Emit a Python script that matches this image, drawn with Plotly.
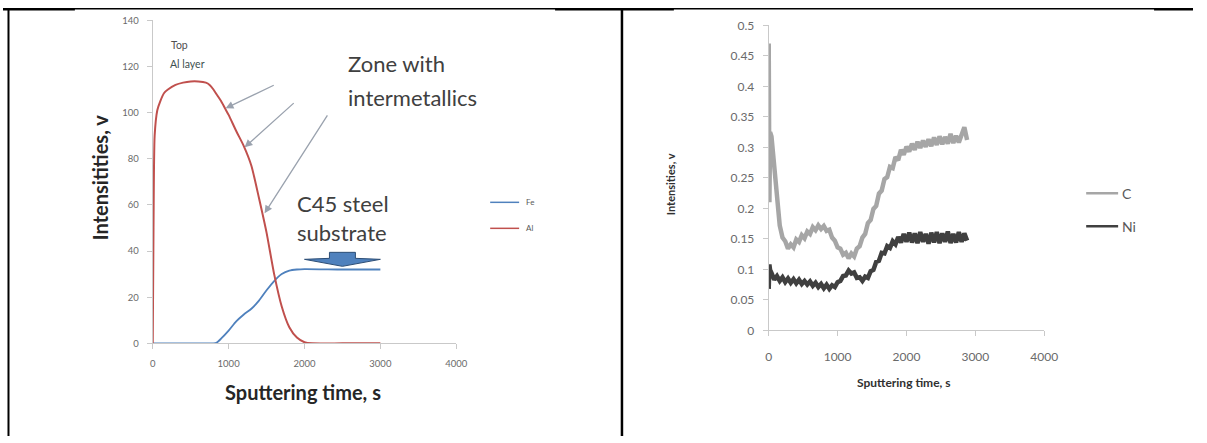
import plotly.graph_objects as go

W, H = 1207, 443

# ---- left panel: Fe / Al depth profile ----
fe_time = [0, 200, 400, 600, 800, 850, 900, 1000, 1100, 1200, 1300, 1400, 1500,
           1600, 1700, 1800, 1900, 2000, 2500, 3000]
fe_val = [0, 0, 0, 0, 0, 0.5, 2, 5.5, 9.5, 12.5, 15, 18.5, 23, 27, 30, 31.5, 32,
          32.2, 32, 32]

al_time = [0, 10, 25, 60, 100, 150, 200, 300, 400, 500, 600, 700, 750, 800, 850,
           900, 950, 1000, 1100, 1200, 1300, 1400, 1500, 1600, 1700, 1800, 1900,
           2000, 2100, 2500, 3000]
al_val = [0, 50, 90, 101, 105, 108.5, 110, 112, 113, 113.5, 113.5, 113, 112,
          110, 107.5, 105, 102, 99, 92, 85.5, 77, 63, 48, 30, 16, 7, 2.5, 0.5,
          0, 0, 0]

left_xticks = [0, 1000, 2000, 3000, 4000]
left_yticks = [0, 20, 40, 60, 80, 100, 120, 140]

# ---- right panel: C / Ni depth profile ----
cn_time = [0, 10, 20] + list(range(40, 2881, 40))

c_val = [0.47, 0.21, 0.325,
         0.318, 0.272, 0.214, 0.172, 0.152, 0.146, 0.134, 0.141, 0.136, 0.149,
         0.145, 0.156, 0.151, 0.162, 0.158, 0.169, 0.164, 0.172, 0.166, 0.171,
         0.163, 0.165, 0.152, 0.147, 0.136, 0.134, 0.124, 0.127, 0.118, 0.126,
         0.121, 0.134, 0.138, 0.152, 0.158, 0.176, 0.181, 0.199, 0.204, 0.224,
         0.229, 0.248, 0.251, 0.268, 0.266, 0.284, 0.279, 0.296, 0.288, 0.301,
         0.293, 0.306, 0.296, 0.309, 0.299, 0.311, 0.301, 0.313, 0.302, 0.316,
         0.304, 0.318, 0.305, 0.317, 0.306, 0.322, 0.307, 0.319, 0.308, 0.321,
         0.333, 0.312]

ni_val = [0.068, 0.108, 0.099,
          0.094, 0.083, 0.089, 0.081, 0.087, 0.079, 0.085, 0.078, 0.084, 0.077,
          0.083, 0.076, 0.081, 0.075, 0.080, 0.073, 0.078, 0.071, 0.076, 0.069,
          0.075, 0.068, 0.074, 0.071, 0.079, 0.081, 0.089, 0.090, 0.098, 0.093,
          0.095, 0.086, 0.087, 0.081, 0.088, 0.086, 0.097, 0.099, 0.112, 0.114,
          0.127, 0.126, 0.138, 0.135, 0.146, 0.141, 0.153, 0.144, 0.158, 0.145,
          0.160, 0.144, 0.159, 0.143, 0.161, 0.145, 0.158, 0.142, 0.160, 0.144,
          0.161, 0.143, 0.159, 0.145, 0.162, 0.143, 0.158, 0.144, 0.161, 0.145,
          0.159, 0.147]

right_xticks = [0, 1000, 2000, 3000, 4000]
right_yticks = [0, 0.05, 0.1, 0.15, 0.2, 0.25, 0.3, 0.35, 0.4, 0.45, 0.5]
right_ylabels = ["0", "0.05", "0.1", "0.15", "0.2", "0.25", "0.3", "0.35",
                 "0.4", "0.45", "0.5"]

n = min(len(cn_time), len(c_val), len(ni_val))
cn_time, c_val, ni_val = cn_time[:n], c_val[:n], ni_val[:n]

FONT = "Lato"
FE_COL, AL_COL = "#4f81bd", "#c0504d"
C_COL, NI_COL = "#a6a6a6", "#404040"
AXIS_COL = "#c9c9c9"
TICK_COL = "#6a6a6a"

# page-to-figure pixel mapping (the page shows the figure in a 1192 x 428 box
# starting 7.7 px from the top)
SX = 1207 / 1192
SY = 0.966
OY = 7.7


def cx(x):
    return x * SX


def cy(y):
    return (y - OY) / SY


def px(x):
    return cx(x) / W


def py(y):
    return 1 - cy(y) / H


fig = go.Figure()

fig.add_trace(go.Scatter(x=fe_time, y=fe_val, mode="lines", name="Fe",
                         line=dict(color=FE_COL, width=1.8, shape="spline",
                                   smoothing=0.6),
                         xaxis="x", yaxis="y", showlegend=False))
fig.add_trace(go.Scatter(x=al_time, y=al_val, mode="lines", name="Al",
                         line=dict(color=AL_COL, width=2, shape="spline",
                                   smoothing=0.6),
                         xaxis="x", yaxis="y", showlegend=False))
fig.add_trace(go.Scatter(x=cn_time, y=c_val, mode="lines", name="C",
                         line=dict(color=C_COL, width=4.5),
                         xaxis="x2", yaxis="y2", showlegend=False))
fig.add_trace(go.Scatter(x=cn_time, y=ni_val, mode="lines", name="Ni",
                         line=dict(color=NI_COL, width=4.5),
                         xaxis="x2", yaxis="y2", showlegend=False))

axis_common = dict(showline=True, linecolor=AXIS_COL, linewidth=1,
                   ticks="outside", ticklen=5, tickcolor=AXIS_COL,
                   showgrid=False, zeroline=False)

fig.update_layout(
    width=W, height=H, autosize=False,
    margin=dict(l=0, r=0, t=0, b=0),
    paper_bgcolor="white", plot_bgcolor="rgba(0,0,0,0)",
    font=dict(family=FONT),
    xaxis=dict(domain=[px(150), px(454)], range=[0, 4000], anchor="y",
               tickvals=left_xticks, tickfont=dict(size=9.5, color=TICK_COL),
               ticklabelstandoff=6, **axis_common),
    yaxis=dict(domain=[py(343), py(20)], range=[0, 140], anchor="x",
               tickvals=left_yticks, tickfont=dict(size=9.5, color=TICK_COL),
               ticklabelstandoff=6, **axis_common),
    xaxis2=dict(domain=[px(767), px(1043)], range=[0, 4000], anchor="y2",
                tickvals=right_xticks, tickfont=dict(size=12, color=TICK_COL),
                ticklabelstandoff=10, **axis_common),
    yaxis2=dict(domain=[py(330), py(25)], range=[0, 0.5], anchor="x2",
                tickvals=right_yticks, ticktext=right_ylabels,
                tickfont=dict(size=12, color=TICK_COL),
                ticklabelstandoff=6, **axis_common),
)

ann = []


def text(x, y, s, size, color="#404040", bold=False, xanchor="left",
         angle=0):
    ann.append(dict(xref="paper", yref="paper", x=px(x), y=py(y),
                    text=f"<b>{s}</b>" if bold else s, showarrow=False,
                    xanchor=xanchor, yanchor="middle", textangle=angle,
                    font=dict(family=FONT, size=size, color=color)))


# left panel labels
text(301, 392, "Sputtering time, s", 20, "#262626", bold=True, xanchor="center")
text(97, 177, "Intensitities, v", 20, "#262626", bold=True, xanchor="center",
     angle=-90)
text(166, 45, "Top", 10.5, "#505050")
text(165, 64, "Al layer", 10.5, "#3d5050")
text(344, 63, "Zone with", 22, "#404040")
text(344, 97, "intermetallics", 22, "#404040")
text(292, 203, "C45 steel", 22, "#404040")
text(292, 232, "substrate", 22, "#404040")

# arrows pointing at the Al profile
for (hx, hy, tx, ty) in [(223, 108, 272, 85), (242, 147, 292, 103),
                         (262, 213, 325, 117)]:
    ann.append(dict(xref="paper", yref="paper", x=px(hx), y=py(hy),
                    ax=(tx - hx) * SX, ay=(ty - hy) / SY, text="",
                    showarrow=True, arrowhead=2, arrowsize=1.2,
                    arrowwidth=1.3, arrowcolor="#9aa2ae", standoff=0))

# right panel labels
text(903, 382, "Sputtering time, s", 12, "#303030", bold=True, xanchor="center")
text(668, 184, "Intensities, v", 11, "#303030", bold=True, xanchor="center",
     angle=-90)

# legend labels
text(522, 202, "Fe", 8, "#595959")
text(522, 228, "Al", 8, "#595959")
text(1119, 193, "C", 14, "#595959")
text(1119, 226, "Ni", 14, "#595959")

fig.update_layout(annotations=ann)

shapes = []


def seg(x0, y0, x1, y1, color, width):
    shapes.append(dict(type="line", xref="paper", yref="paper",
                       x0=px(x0), y0=py(y0), x1=px(x1), y1=py(y1),
                       line=dict(color=color, width=width)))


# legend keys
seg(488, 202, 517, 202, FE_COL, 1.5)
seg(488, 228, 517, 228, AL_COL, 1.5)
seg(1085, 193, 1117, 193, C_COL, 2.5)
seg(1085, 226, 1117, 226, NI_COL, 2.5)

# table borders around the two panels (top rule pinned to the figure edge)
top = 1 - 0.75 / H
shapes.append(dict(type="line", xref="paper", yref="paper", x0=0, x1=1,
                   y0=top, y1=top, line=dict(color="black", width=1.5)))
for (x, w) in [(5.5, 2), (620, 2.5)]:
    shapes.append(dict(type="line", xref="paper", yref="paper",
                       x0=px(x), x1=px(x), y0=0, y1=top,
                       line=dict(color="black", width=w)))
for (x0, x1) in [(0, 72), (553, 672), (1153, W)]:
    shapes.append(dict(type="rect", xref="paper", yref="paper",
                       x0=px(x0), x1=min(px(x1), 1), y0=1 - 2.5 / H, y1=1,
                       fillcolor="black", line=dict(width=0)))

# block arrow marking the steel substrate level
pts = [(327, 252), (353, 252), (353, 258), (378, 259), (340, 266), (302, 259),
       (327, 258)]
path = "M " + " L ".join(f"{px(x):.5f},{py(y):.5f}" for x, y in pts) + " Z"
shapes.append(dict(type="path", xref="paper", yref="paper", path=path,
                   fillcolor="#4f81bd", line=dict(color="#2c4d75", width=1)))

fig.update_layout(shapes=shapes)

fig.write_html("out.html", config={"displayModeBar": False})
